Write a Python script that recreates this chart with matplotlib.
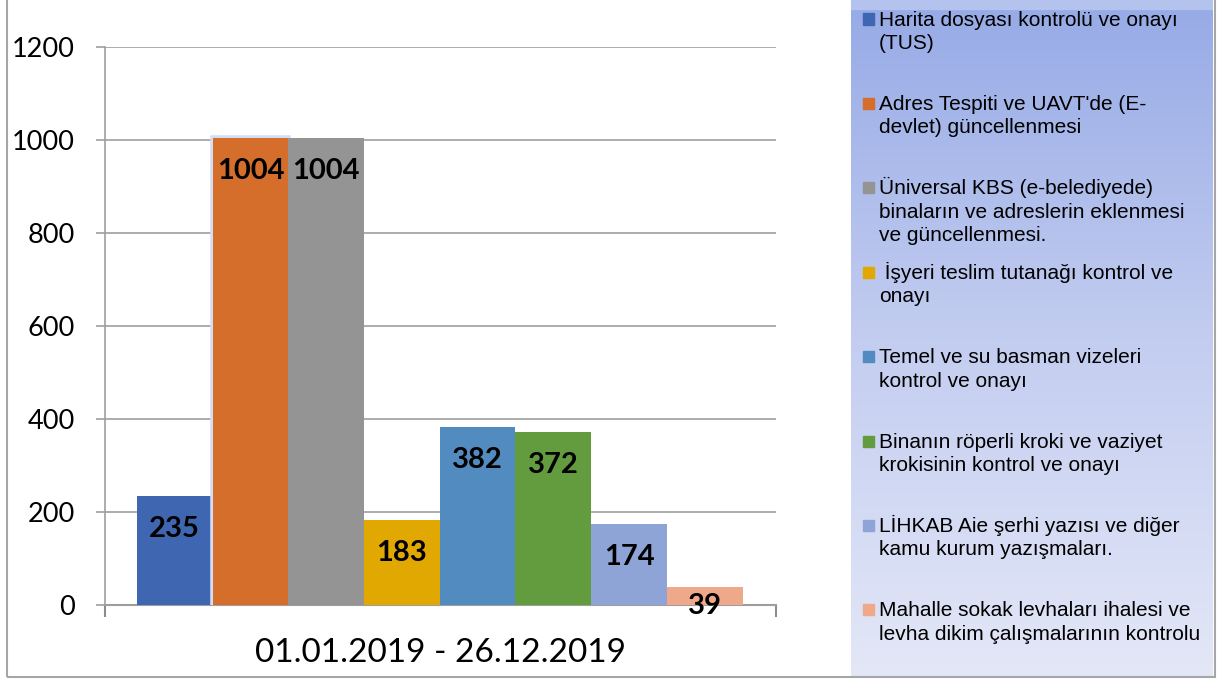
import matplotlib.pyplot as plt
import matplotlib.patheffects as pe
import numpy as np
from matplotlib.patches import Rectangle
from matplotlib.colors import LinearSegmentedColormap

labels = [
    "Harita dosyası kontrolü ve onayı\n(TUS)",
    "Adres Tespiti ve UAVT'de (E-\ndevlet) güncellenmesi",
    "Üniversal KBS (e-belediyede)\nbinaların ve adreslerin eklenmesi\nve güncellenmesi.",
    " İşyeri teslim tutanağı kontrol ve\nonayı",
    "Temel ve su basman vizeleri\nkontrol ve onayı",
    "Binanın röperli kroki ve vaziyet\nkrokisinin kontrol ve onayı",
    "LİHKAB Aie şerhi yazısı ve diğer\nkamu kurum yazışmaları.",
    "Mahalle sokak levhaları ihalesi ve\nlevha dikim çalışmalarının kontrolu",
]
values = [235, 1004, 1004, 183, 382, 372, 174, 39]
colors = ["#3F66B0", "#D46E2A", "#949494", "#E0A800",
          "#518BBF", "#639C3F", "#8FA4D6", "#F0A88A"]
period = "01.01.2019 - 26.12.2019"

W, H = 1217, 679
fig = plt.figure(figsize=(W / 100, H / 100), dpi=100)


def fx(px):
    return px / W


def fy(py):
    return 1 - py / H


# legend panel with a vertical gradient
lx0, lx1, ly0, ly1 = 851, 1213, 0, 677
bg = fig.add_axes([fx(lx0), fy(ly1), fx(lx1 - lx0), (ly1 - ly0) / H], zorder=0)
cmap = LinearSegmentedColormap.from_list("leg", ["#96AAE6", "#C3CDF0", "#E3E7F7"])
bg.imshow(np.linspace(0, 1, 256).reshape(-1, 1), aspect="auto", cmap=cmap,
          extent=[0, 1, 1, 0])
bg.axhspan(0, 0.014, color="#B4C2EE")
bg.set_xlim(0, 1)
bg.set_ylim(1, 0)
bg.axis("off")

ax = fig.add_axes([fx(105), fy(605), fx(776 - 105), (605 - 47) / H], zorder=2)
x = np.arange(len(values))
bars = ax.bar(x, values, width=1.0, color=colors, zorder=3)
bars[1].set_path_effects([pe.withStroke(linewidth=4, foreground="#D3DEF5"),
                          pe.Normal()])

for i, v in enumerate(values):
    ax.text(i, max(v - 71, -3), str(v), ha="center", va="center",
            fontsize=21, fontweight="bold", zorder=4, clip_on=False,
            family="Lato")

ax.set_xlim(-0.92, 7.94)
ax.set_ylim(0, 1200)
ax.set_yticks(np.arange(0, 1201, 200))
ax.yaxis.grid(True, color="#9E9E9E", lw=1.2, zorder=0)
ax.set_axisbelow(True)
ax.tick_params(axis="y", length=6.5, width=1.2, color="#9E9E9E", pad=15,
               labelsize=19.5)
for t in ax.get_yticklabels():
    t.set_family("Lato")
ax.set_xticks([-0.92, 7.94])
ax.set_xticklabels([])
ax.tick_params(axis="x", length=8.5, width=1.5, color="#8C8C8C")
ax.set_xlabel(period, fontsize=24, family="Lato", labelpad=12)
for s in ["top", "right"]:
    ax.spines[s].set_visible(False)
ax.spines["left"].set_color("#9E9E9E")
ax.spines["left"].set_linewidth(1.2)
ax.spines["bottom"].set_color("#9E9E9E")
ax.spines["bottom"].set_linewidth(1.5)
ax.set_facecolor("none")

# legend entries
base0 = 25.5
slot = 84.4
pitch = 23.5
for k, (lab, c) in enumerate(zip(labels, colors)):
    yb = base0 + k * slot
    fig.patches.append(Rectangle((fx(863), fy(yb - 1)), fx(11), 11 / H,
                                 transform=fig.transFigure, color=c, zorder=3))
    for j, line in enumerate(lab.split("\n")):
        fig.text(fx(879), fy(yb + j * pitch), line, ha="left", va="baseline",
                 fontsize=15, family=["Liberation Sans", "DejaVu Sans"],
                 zorder=3)

# outer frame
fig.patches.append(Rectangle((fx(7), fy(677)), fx(1215 - 7), 677 / H + 0.01,
                             transform=fig.transFigure, fill=False,
                             edgecolor="#A6A6A6", lw=1.5, zorder=5))

fig.savefig("out.png", dpi=100)
